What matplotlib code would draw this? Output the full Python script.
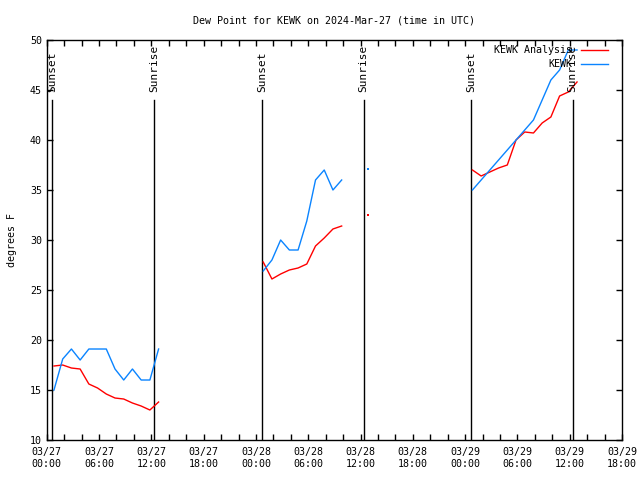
### Dew point chart for KEWK, observations vs analysis
import matplotlib
matplotlib.use('Agg')
import matplotlib.pyplot as plt
import matplotlib.dates as mdates
import pandas as pd

plt.rcParams['font.family'] = ['DejaVu Sans Mono']
plt.rcParams['font.size'] = 7.2

# observation times (UTC), one segment per day
times_1 = pd.date_range('2024-03-27 00:50', periods=13, freq='h')
times_2 = pd.date_range('2024-03-28 00:50', periods=10, freq='h')
times_3 = pd.date_range('2024-03-29 00:50', periods=13, freq='h')
time_lone = pd.to_datetime(['2024-03-28 12:54'])

# dew point, degrees F
analysis_1 = [17.4, 17.5, 17.2, 17.1, 15.6, 15.2, 14.6, 14.2, 14.1, 13.7, 13.4, 13.0, 13.8]
obs_1 = [15.0, 18.1, 19.1, 18.0, 19.1, 19.1, 19.1, 17.1, 16.0, 17.1, 16.0, 16.0, 19.1]
analysis_2 = [27.8, 26.1, 26.6, 27.0, 27.2, 27.6, 29.4, 30.2, 31.1, 31.4]
obs_2 = [26.9, 28.0, 30.0, 29.0, 29.0, 31.9, 36.0, 37.0, 35.0, 36.0]
analysis_3 = [37.0, 36.4, 36.8, 37.2, 37.5, 40.0, 40.8, 40.7, 41.7, 42.3, 44.4, 44.8, 45.8]
obs_3 = [35.0, 36.0, 37.0, 38.0, 39.0, 40.0, 41.0, 42.0, 44.0, 46.0, 47.0, 49.0, 49.0]
analysis_lone = [32.5]
obs_lone = [37.1]

sunsets = pd.to_datetime(['2024-03-27 00:39', '2024-03-28 00:41', '2024-03-29 00:43'])
sunrises = pd.to_datetime(['2024-03-27 12:19', '2024-03-28 12:22', '2024-03-29 12:20'])

red = '#ff0000'
blue = '#0a84ff'

fig = plt.figure(figsize=(6.4, 4.8), dpi=100)
ax = fig.add_axes([0.073, 0.0833, 0.899, 0.8334])

# sunset / sunrise markers
for when, name in [(t, 'Sunset') for t in sunsets] + [(t, 'Sunrise') for t in sunrises]:
  ax.plot([when, when], [10, 44], c='k', lw=1)
  ax.text(when, 44.8, name, rotation=90, ha='center', va='bottom', fontsize=8)

ax.plot(times_1, analysis_1, c=red, lw=1, label='KEWK Analysis')
ax.plot(times_2, analysis_2, c=red, lw=1)
ax.plot(times_3, analysis_3, c=red, lw=1)
ax.plot(time_lone, analysis_lone, c=red, ls='none', marker='s', ms=1.5, mew=0)
ax.plot(times_1, obs_1, c=blue, lw=1, label='KEWK')
ax.plot(times_2, obs_2, c=blue, lw=1)
ax.plot(times_3, obs_3, c=blue, lw=1)
ax.plot(time_lone, obs_lone, c=blue, ls='none', marker='s', ms=1.5, mew=0)

ax.set_xlim(pd.Timestamp('2024-03-27 00:00'), pd.Timestamp('2024-03-29 18:00'))
ax.set_ylim(10, 50)
ax.set_yticks(range(10, 51, 5))
ax.xaxis.set_major_locator(mdates.HourLocator(byhour=[0, 6, 12, 18]))
ax.xaxis.set_minor_locator(mdates.HourLocator(byhour=range(0, 24, 2)))
ax.xaxis.set_major_formatter(mdates.DateFormatter('%m/%d\n%H:%M'))
ax.tick_params(which='both', direction='in', top=True, right=True, length=4.5, width=1, labelsize=7.2)
ax.tick_params(axis='x', pad=5)
for s in ax.spines.values():
  s.set_linewidth(1)

ax.set_title('Dew Point for KEWK on 2024-Mar-27 (time in UTC)', fontsize=7.2, pad=12)
ax.set_ylabel('degrees F', fontsize=7.2, labelpad=9)

ax.legend(loc='upper right', bbox_to_anchor=(0.985, 1.0), frameon=False, markerfirst=False,
          fontsize=7.2, handlelength=2.7, handletextpad=0.9, labelspacing=0.4, borderaxespad=0.15)

fig.savefig('out.png', dpi=100)
